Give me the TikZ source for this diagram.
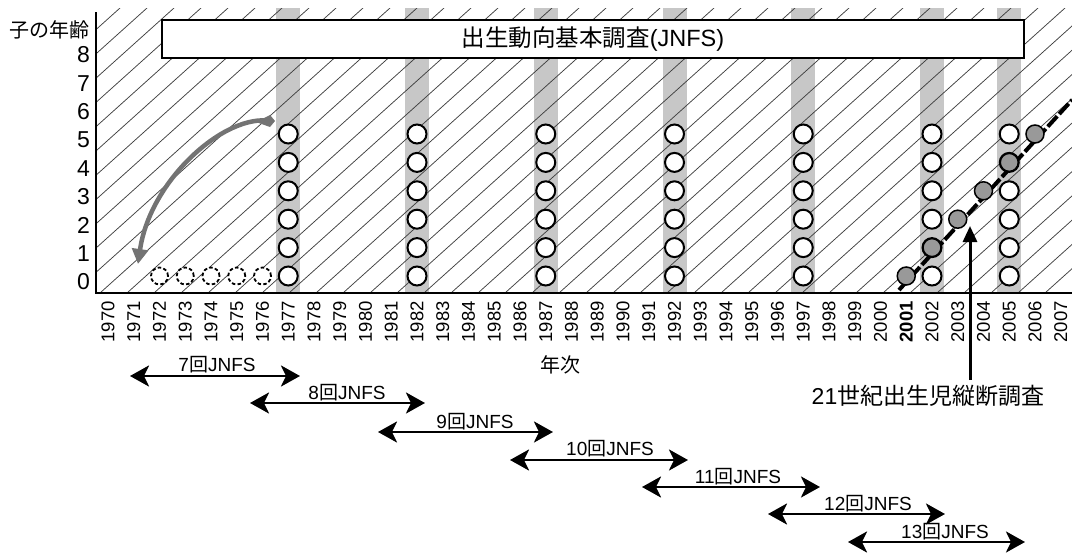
\documentclass[tikz,border=0pt]{standalone}
\usepackage{fontspec}
\setmainfont{Liberation Sans}
\newfontfamily\cjk{Noto Sans CJK JP}
\usetikzlibrary{arrows.meta}
\begin{document}
\begin{tikzpicture}[x=1pt,y=-1pt,
  opencirc/.style={circle,draw,line width=2pt,minimum size=19pt,inner sep=0pt,fill=white},
  dashcirc/.style={circle,draw,line width=1.8pt,dash pattern=on 3.5pt off 2.3pt,minimum size=17pt,inner sep=0pt,fill=white},
  graycirc/.style={circle,draw,line width=1.5pt,minimum size=18pt,inner sep=0pt,fill=black!40},
  band/.style={fill=black!22},
  hatch/.style={line width=0.75pt,black!75},
  yrlabel/.style={rotate=90,anchor=east,font=\fontsize{18.5}{18.5}\selectfont,inner sep=0pt},
  agelabel/.style={anchor=east,font=\fontsize{23}{23}\selectfont,inner sep=0pt},
  span/.style={{Stealth[length=19pt,width=21pt,inset=5pt]}-{Stealth[length=19pt,width=21pt,inset=5pt]},line width=2.8pt},
  spanlabel/.style={font=\fontsize{19}{19}\selectfont,inner sep=0pt},
]
\useasboundingbox (0,0) rectangle (1072,554);
% survey bands
\foreach \yy in {1977,1982,1987,1992,1997,2002,2005}{
  \pgfmathsetmacro\xx{108+25.75*(\yy-1970)}
  \fill[band] (\xx-12,8) rectangle (\xx+12,293);
}
% hatching
\begin{scope}
  \clip (96,8) rectangle (1072,293);
  \foreach \i in {0,...,53}{
    \draw[hatch] ({-224+27*\i},293) -- ({-224+27*\i+317},8);
  }
\end{scope}
% title box
\node[draw,line width=1.5pt,fill=white,minimum width=862pt,minimum height=38pt,inner sep=0pt,
      font=\fontsize{23.5}{23.5}\selectfont] (title) at (593,39) {{\cjk 出生動向基本調査}(JNFS)};
% axes
\coordinate (ytop) at (96,12);
\coordinate (orig) at (96,293);
\coordinate (xend) at (1072,293);
\draw[line width=2.5pt] (ytop) -- (orig) -- (xend);
% age labels
\foreach \a in {0,...,8}{
  \node[agelabel] (age\a) at (90,{282-28.4*\a}) {\a};
}
\node[anchor=east,inner sep=0pt,font={\cjk\fontsize{20}{20}\selectfont}] (agetitle) at (90,30) {子の年齢};
% year labels
\foreach \yy in {1970,...,2000,2002,2003,2004,2005,2006,2007}{
  \node[yrlabel] (yr\yy) at ({108+25.75*(\yy-1970)},301) {\yy};
}
\node[yrlabel,font=\fontsize{18.5}{18.5}\selectfont\bfseries] (yr2001) at ({108+25.75*31},301) {2001};
\node[font={\cjk\fontsize{20}{20}\selectfont},inner sep=0pt] (nenji) at (560,365) {年次};
% JNFS circles
\foreach \yy in {1977,1982,1987,1992,1997,2002,2005}{
  \foreach \a in {0,...,5}{
    \node[opencirc] (c\yy-\a) at ({108+25.75*(\yy-1970)},{276-28.4*\a}) {};
  }
}
\foreach \yy in {1972,...,1976}{
  \node[dashcirc] (d\yy) at ({108+25.75*(\yy-1970)},276) {};
}
% curved gray arrow
\coordinate (ctail) at (271,121);
\coordinate (ctip) at (138,264);
\draw[line width=4.5pt,color=black!55,-{Triangle[length=15pt,width=16pt]}]
  (ctail) .. controls (225,113) and (150,180) .. (ctip);
\fill[black!55] (ctail) ++(-1,-6) -- ++(5,6) -- ++(-5,6) -- ++(-14,-5) -- cycle;
% 21st century longitudinal survey
\coordinate (l0) at (899,290);
\coordinate (l1) at (1072,100);
\draw[line width=4pt,dash pattern=on 14pt off 3pt] (l0) -- (l1);
\foreach \k in {0,...,5}{
  \node[graycirc] (g\k) at ({108+25.75*(2001+\k-1970)},{276-28.4*\k}) {};
}
\node[inner sep=0pt,font=\fontsize{23}{23}\selectfont] (lsurvey) at (928,396) {21{\cjk 世紀出生児縦断調査}};
\coordinate (ab) at (970,380);
\coordinate (at) at (970,226);
\draw[line width=3pt,-{Triangle[length=16pt,width=14pt]}] (ab) -- (at);
% JNFS span arrows
\foreach \l/\r/\y/\cx/\ly/\n in {130/300/376/217/365/7, 250/425/403/347/393/8, 378/553/432/475/422/9,
   510/688/460/610/449/10, 642/820/487/738/477/11, 768/945/514/868/504/12, 848/1025/542/945/532/13}{
  \coordinate (sL\n) at (\l,\y);
  \coordinate (sR\n) at (\r,\y);
  \draw[span] (sL\n) -- (sR\n);
  \node[spanlabel] (sl\n) at (\cx,\ly) {\n{\cjk 回}JNFS};
}
\end{tikzpicture}
\end{document}
